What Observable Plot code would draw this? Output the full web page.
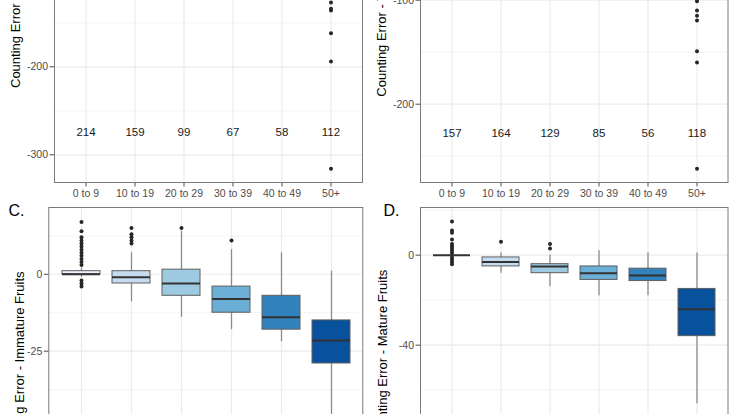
<!DOCTYPE html>
<html><head><meta charset="utf-8">
<script src="https://cdn.jsdelivr.net/npm/d3@7"></script>
<script src="https://cdn.jsdelivr.net/npm/@observablehq/plot@0.6"></script>
<style>
html,body{margin:0;padding:0;background:#fff;}
#fig{position:relative;width:740px;height:414px;overflow:hidden;background:#fff;font-family:"Liberation Sans",Arial,sans-serif;}
.panel{position:absolute;}
</style></head><body><div id="fig"></div>
<script>
// ---- shared categories / palette ----
const ageGroups = ["0 to 9","10 to 19","20 to 29","30 to 39","40 to 49","50+"];
const blues = ["#eff3ff","#c6dbef","#9ecae1","#6baed6","#3182bd","#08519c"];

// ---- Panel A (top-left) : visible part only ----
const countsA = [214,159,99,67,58,112];
const countLabelYA = -274;
const outlierGroupA = ["50+","50+","50+","50+","50+","50+"];
const outlierValueA = [-127,-134,-136,-162,-194,-316];
const ticksA = [-300,-200,-100];
const minorA = [-250,-150,-50];

// ---- Panel B (top-right) ----
const countsB = [157,164,129,85,56,118];
const countLabelYB = -228;
const outlierGroupB = ["50+","50+","50+","50+","50+","50+","50+"];
const outlierValueB = [-101,-110,-115,-119.5,-149,-160,-262];
const ticksB = [-200,-100];
const minorB = [-250,-150,-50];

// ---- Panel C : Immature fruits ----
const q1C  = [0,-3,-7,-12.5,-18,-29];
const medC = [0,-1,-3,-8,-14,-21.5];
const q3C  = [1,1,1.5,-4,-7,-15];
const loC  = [-1,-9,-14,-18,-22,-50];
const hiC  = [2,7,14,8,7,1];
const outlierGroupC = ["0 to 9","0 to 9","0 to 9","0 to 9","0 to 9","0 to 9","0 to 9","0 to 9","0 to 9","0 to 9","0 to 9","0 to 9","0 to 9","0 to 9","0 to 9",
  "10 to 19","10 to 19","10 to 19","10 to 19","10 to 19","20 to 29","30 to 39"];
const outlierValueC = [17,14,12,11,10,9,8,7,6,5,4,3,-2,-3,-4,
  15,13,12,11,10,15,11];
const ticksC = [0,-25,-50];
const minorC = [12.5,-12.5,-37.5];

// ---- Panel D : Mature fruits ----
const q1D  = [0,-5,-8,-11,-11.5,-36];
const medD = [0,-3,-5,-8,-9,-24];
const q3D  = [0,-1,-4,-5,-6,-15];
const loD  = [0,-8,-14,-18,-18,-66];
const hiD  = [0,1,0,2,1,1];
const outlierGroupD = ["0 to 9","0 to 9","0 to 9","0 to 9","0 to 9","0 to 9","0 to 9","0 to 9","0 to 9","0 to 9","0 to 9","0 to 9","0 to 9",
  "10 to 19","20 to 29","20 to 29"];
const outlierValueD = [15,11,10,7,5,4,3,2,1,-1,-2,-3,-4,
  6,5,3];
const ticksD = [0,-40,-80];
const minorD = [20,-20,-60];

const FONT = '"Liberation Sans", Arial, Helvetica, sans-serif';

function boxTable(q1,med,q3,lo,hi){
  return ageGroups.map((g,i)=>({group:g,q1:q1[i],med:med[i],q3:q3[i],lo:lo[i],hi:hi[i]}));
}
function pointTable(groups, values){
  return groups.map((g,i)=>({group:g,value:values[i]}));
}

function panel(o){
  const marks = [
    Plot.gridY(o.minor, {stroke:"#ebebeb", strokeOpacity:1, strokeWidth:0.6}),
    Plot.gridY(o.ticks, {stroke:"#ebebeb", strokeOpacity:1, strokeWidth:1.2}),
    Plot.gridX({stroke:"#ebebeb", strokeOpacity:1, strokeWidth:1.2}),
  ];
  if (o.box) {
    marks.push(
      Plot.ruleX(o.box, {x:"group", y1:"lo", y2:"hi", stroke:"#8c8c8c", strokeWidth:1.3}),
      Plot.barY(o.box, {x:"group", y1:"q1", y2:"q3", fill:"group", stroke:"#5e5e5e", strokeWidth:1}),
      Plot.tickY(o.box, {x:"group", y:"med", stroke:"#333333", strokeWidth:2})
    );
  }
  if (o.points) {
    marks.push(Plot.dot(o.points, {x:"group", y:"value", r:2, fill:"#262626", stroke:"none"}));
  }
  if (o.counts) {
    marks.push(Plot.text(ageGroups, {x:d=>d, y:()=>o.countY, text:(d,i)=>String(o.counts[i]), fontSize:11.5, fill:"#1a1a1a"}));
  }
  marks.push(Plot.axisY({ticks:o.ticks, tickFormat:d=>String(d), tickSize:4.5, tickPadding:2, color:"#4d4d4d", label:null}));
  if (o.xAxis) {
    marks.push(Plot.axisX({tickSize:4.5, tickPadding:2.5, color:"#4d4d4d", label:null}));
  }
  marks.push(Plot.frame({stroke:"#7a7a7a", strokeWidth:1}));

  const svg = Plot.plot({
    width:o.width, height:o.height,
    marginLeft:o.ml, marginRight:o.mr, marginTop:o.mt, marginBottom:o.mb,
    style:{fontFamily:FONT, fontSize:"10.5px", background:"transparent", overflow:"visible"},
    x:{type:"band", domain:ageGroups, paddingInner:0.25, paddingOuter:0.225, align:0.5, axis: o.xAxis ? undefined : null},
    y:{domain:o.yDomain, axis:null},
    color:{domain:ageGroups, range:blues},
    marks
  });
  const s = d3.select(svg);
  s.append("text")
    .attr("transform", `translate(${o.labelX},${o.labelY}) rotate(-90)`)
    .attr("text-anchor", o.labelAnchor)
    .attr("font-family", FONT).attr("font-size", 13).attr("fill", "#000")
    .text(o.yLabel);
  if (o.tag) {
    s.append("text").attr("x", o.tagX).attr("y", o.tagY)
      .attr("font-family", FONT).attr("font-size", 16).attr("fill", "#000")
      .text(o.tag);
  }
  const div = document.createElement("div");
  div.className = "panel";
  div.style.left = o.left + "px";
  div.style.top = o.top + "px";
  div.style.width = o.width + "px";
  div.appendChild(svg);
  document.getElementById("fig").appendChild(div);
}

// A
panel({left:0, top:-60, width:370, height:262, ml:54, mr:8, mt:0, mb:20,
  yDomain:[-331.5,-56.5], ticks:ticksA, minor:minorA,
  points:pointTable(outlierGroupA, outlierValueA), counts:countsA, countY:countLabelYA,
  xAxis:true, yLabel:"Counting Error - Flowers", labelX:20, labelY:148, labelAnchor:"start"});
// B
panel({left:370, top:-60, width:370, height:262, ml:50, mr:12.5, mt:0, mb:20,
  yDomain:[-275.3,-42.6], ticks:ticksB, minor:minorB,
  points:pointTable(outlierGroupB, outlierValueB), counts:countsB, countY:countLabelYB,
  xAxis:true, yLabel:"Counting Error - Total Fruits", labelX:16, labelY:156.7, labelAnchor:"start"});
// C
panel({left:0, top:187.3, width:370, height:260, ml:48.3, mr:7.7, mt:20, mb:0,
  yDomain:[-56.3,21.7], ticks:ticksC, minor:minorC,
  box:boxTable(q1C,medC,q3C,loC,hiC), points:pointTable(outlierGroupC, outlierValueC),
  xAxis:false, yLabel:"Counting Error - Immature Fruits", labelX:23.5, labelY:84.4, labelAnchor:"end",
  tag:"C.", tagX:16.5, tagY:29.4});
// D
panel({left:370, top:187.3, width:370, height:260, ml:50, mr:12.5, mt:20, mb:0,
  yDomain:[-85.5,21.2], ticks:ticksD, minor:minorD,
  box:boxTable(q1D,medD,q3D,loD,hiD), points:pointTable(outlierGroupD, outlierValueD),
  xAxis:false, yLabel:"Counting Error - Mature Fruits", labelX:17, labelY:82.7, labelAnchor:"end",
  tag:"D.", tagX:21.5, tagY:29.4});
</script></body></html>
